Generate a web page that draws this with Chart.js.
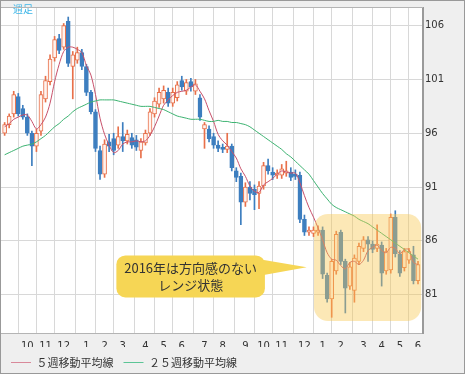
<!DOCTYPE html>
<html>
<head>
<meta charset="utf-8">
<script src="https://cdn.jsdelivr.net/npm/chart.js@4.4.0/dist/chart.umd.min.js"></script>
<style>
  html, body { margin: 0; padding: 0; background: #efefef; }
  #wrap { width: 465px; height: 374px; }
</style>
</head>
<body>
<div id="wrap"><canvas id="chart" width="465" height="374"></canvas></div>
<script>
// weekly candles, index 0 = first week shown (Sep 2014)
const opens = [
  96.0, 96.8, 97.8, 99.4, 98.3, 97.5, 96.0, 94.8, 96.2, 99.2,
  100.8, 103.0, 104.8, 104.0, 106.4, 102.2, 102.8, 103.5, 102.2, 99.8,
  98.0, 94.4, 92.2, 95.2, 95.5, 94.9, 95.7, 95.3, 95.6, 95.4,
  94.4, 95.1, 96.0, 97.8, 98.7, 99.2, 99.8, 98.8, 99.3, 100.9,
  99.9, 100.8, 99.9, 99.3, 96.4, 96.4, 95.7, 94.9, 94.7, 94.5,
  94.8, 92.5, 92.0, 89.6, 91.0, 90.8, 90.4, 91.1, 93.0, 92.4,
  92.1, 92.1, 92.3, 92.4, 92.2, 92.1, 88.0, 86.8, 86.7, 86.8,
  87.0, 82.8, 80.6, 83.2, 86.8, 84.1, 81.8, 81.4, 84.1, 85.3,
  86.1, 85.7, 85.3, 85.6, 83.2, 83.3, 88.2, 84.8, 83.5, 84.2,
  84.7, 82.3
];
const highs = [
  97.0, 97.8, 99.9, 99.7, 98.6, 97.8, 96.2, 96.4, 99.9, 101.3,
  103.3, 105.0, 105.2, 106.2, 106.8, 103.6, 104.0, 103.8, 102.4, 100.0,
  98.2, 94.8, 95.4, 95.9, 96.0, 96.6, 97.0, 96.3, 96.0, 95.8,
  95.5, 96.3, 98.3, 99.3, 100.2, 100.4, 100.2, 100.2, 100.8, 101.3,
  101.0, 101.1, 101.0, 99.6, 97.0, 96.7, 96.0, 95.3, 95.0, 96.0,
  95.0, 92.8, 92.3, 91.4, 91.5, 91.2, 91.5, 93.3, 93.6, 92.8,
  92.6, 93.1, 93.4, 92.8, 92.6, 92.4, 88.4, 87.3, 87.3, 87.4,
  87.3, 83.0, 84.3, 86.9, 87.0, 84.3, 84.0, 84.7, 85.8, 86.4,
  86.4, 86.0, 87.5, 85.9, 85.3, 88.5, 88.8, 85.1, 85.3, 85.3,
  85.5, 84.1
];
const lows = [
  95.8, 96.5, 97.5, 97.6, 97.3, 95.8, 93.0, 94.3, 95.8, 98.9,
  100.5, 102.7, 103.4, 103.8, 102.2, 99.2, 102.5, 101.9, 99.5, 97.8,
  94.3, 91.7, 91.9, 94.3, 94.0, 94.6, 94.3, 95.0, 94.6, 94.4,
  93.7, 94.9, 95.8, 97.5, 98.4, 98.8, 98.5, 98.5, 99.0, 100.0,
  99.6, 99.9, 99.6, 97.2, 94.6, 95.2, 94.6, 94.3, 94.2, 94.2,
  92.5, 91.5, 87.5, 89.2, 89.8, 88.9, 89.0, 90.8, 92.2, 91.7,
  91.8, 91.8, 92.0, 91.6, 91.7, 87.7, 86.5, 86.5, 86.4, 86.5,
  82.5, 80.3, 78.9, 82.9, 83.8, 79.3, 81.5, 80.3, 83.8, 85.0,
  84.1, 84.9, 85.0, 81.8, 82.9, 83.0, 84.5, 82.7, 83.2, 83.9,
  82.0, 82.0
];
const closes = [
  96.8, 97.6, 99.6, 97.8, 97.5, 96.0, 94.8, 96.0, 99.6, 100.9,
  102.9, 104.7, 103.7, 106.0, 102.5, 103.3, 103.5, 102.2, 99.8, 98.0,
  94.6, 92.2, 95.0, 94.8, 94.4, 95.7, 95.3, 95.9, 94.9, 94.7,
  95.2, 96.0, 98.0, 99.0, 99.8, 100.0, 98.8, 99.8, 100.5, 100.3,
  100.7, 100.3, 100.6, 97.5, 96.8, 95.5, 94.9, 94.6, 94.5, 94.8,
  92.8, 91.9, 89.6, 91.0, 90.4, 90.3, 91.1, 93.0, 92.5, 92.1,
  92.3, 92.7, 92.5, 91.9, 92.0, 88.0, 86.8, 87.0, 87.0, 87.0,
  82.9, 80.6, 84.1, 86.6, 84.1, 81.6, 83.6, 84.4, 85.5, 86.1,
  85.7, 85.2, 85.7, 83.0, 85.0, 88.2, 84.8, 83.0, 85.0, 85.0,
  82.3, 83.8
];
// 5-week and 25-week moving averages
const ma5 = [
  96.6, 96.9, 97.3, 97.5, 97.7, 97.7, 97.1, 96.4, 96.8, 97.5,
  98.8, 100.8, 102.4, 103.6, 104.0, 104.0, 103.8, 103.5, 102.3, 101.4,
  99.6, 97.4, 95.9, 94.9, 94.2, 94.4, 95.0, 95.2, 95.2, 95.3,
  95.2, 95.3, 95.8, 96.6, 97.6, 98.6, 99.1, 99.5, 99.8, 99.9,
  100.0, 100.3, 100.5, 99.9, 99.2, 98.1, 97.1, 95.9, 95.3, 94.9,
  94.3, 93.7, 92.7, 92.0, 91.1, 90.6, 90.5, 91.2, 91.5, 91.8,
  92.2, 92.5, 92.4, 92.3, 92.3, 91.4, 90.2, 89.1, 88.2, 87.2,
  86.1, 84.9, 84.3, 84.2, 83.7, 83.4, 84.0, 84.1, 83.8, 84.2,
  85.1, 85.4, 85.6, 85.1, 84.9, 85.4, 85.3, 84.8, 85.2, 85.2,
  84.0, 83.8
];
const ma25 = [
  94.0, 94.2, 94.4, 94.6, 94.8, 94.9, 95.0, 95.2, 95.5, 95.8,
  96.2, 96.6, 96.9, 97.3, 97.6, 98.0, 98.3, 98.5, 98.7, 98.9,
  99.0, 99.1, 99.1, 99.1, 99.1, 99.0, 98.9, 98.8, 98.7, 98.6,
  98.5, 98.5, 98.5, 98.4, 98.3, 98.2, 98.0, 97.8, 97.6, 97.5,
  97.4, 97.3, 97.3, 97.3, 97.2, 97.1, 97.1, 97.2, 97.1, 97.1,
  97.0, 97.0, 96.9, 96.8, 96.6, 96.3, 96.0, 95.7, 95.4, 95.1,
  94.8, 94.5, 94.1, 93.8, 93.4, 93.0, 92.6, 92.2, 91.6, 91.0,
  90.4, 89.9, 89.4, 89.1, 88.9, 88.7, 88.5, 88.3, 88.0, 87.8,
  87.6, 87.3, 87.0, 86.7, 86.4, 86.1, 85.8, 85.5, 85.2, 84.9,
  84.6, 84.3
];
// first week of each month -> label
const monthTicks = [5, 9, 13, 18, 22, 26, 31, 35, 39, 44, 48, 53, 57, 61, 66, 70, 74, 79, 83, 87, 91];
const monthLabels = ['10', '11', '12', '1', '2', '3', '4', '5', '6', '7', '8', '9', '10', '11', '12', '1', '2', '3', '4', '5', '6'];
const priceTicks = [81, 86, 91, 96, 101, 106];

const upColor = '#e8704a';
const downColor = '#3d7ebf';
const isUp = (i) => closes[i] >= opens[i];

const wickData = highs.map((h, i) => ({ x: i, y: [lows[i], h] }));
const bodyData = opens.map((o, i) => ({ x: i, y: [o, closes[i]] }));

// highlighted range + callout, in data units
const rangeBox = { x0: 68.1, x1: 91.7, y0: 78.55, y1: 88.5 };
const callout = { x0: 24.6, x1: 57.3, y0: 80.75, y1: 84.65, tipX: 66.5, tipY: 83.55 };

const decorations = {
    id: 'decorations',
    beforeDraw(chart) {
        const { ctx, chartArea: a } = chart;
        ctx.save();
        ctx.fillStyle = '#efefef';
        ctx.fillRect(0, 0, chart.width, chart.height);
        ctx.fillStyle = '#ffffff';
        ctx.fillRect(a.left, a.top, a.right - a.left, a.bottom - a.top);
        ctx.restore();
    },
    afterDatasetsDraw(chart) {
        const { ctx, scales: { x, y } } = chart;
        ctx.save();
        // translucent range box
        const bx0 = x.getPixelForValue(rangeBox.x0), bx1 = x.getPixelForValue(rangeBox.x1);
        const by0 = y.getPixelForValue(rangeBox.y1), by1 = y.getPixelForValue(rangeBox.y0);
        ctx.fillStyle = 'rgba(247, 200, 80, 0.42)';
        ctx.beginPath();
        ctx.roundRect(bx0, by0, bx1 - bx0, by1 - by0, 14);
        ctx.fill();

        // callout bubble
        const cx0 = x.getPixelForValue(callout.x0), cx1 = x.getPixelForValue(callout.x1);
        const cy0 = y.getPixelForValue(callout.y1), cy1 = y.getPixelForValue(callout.y0);
        ctx.fillStyle = '#f6d655';
        ctx.beginPath();
        ctx.roundRect(cx0, cy0, cx1 - cx0, cy1 - cy0, 9);
        ctx.fill();
        ctx.beginPath();
        ctx.moveTo(cx1 - 4, cy0 + 4);
        ctx.lineTo(x.getPixelForValue(callout.tipX), y.getPixelForValue(callout.tipY));
        ctx.lineTo(cx1 - 4, cy0 + 20);
        ctx.closePath();
        ctx.fill();
        ctx.fillStyle = '#333333';
        ctx.font = '13px "Noto Sans CJK JP"';
        ctx.textAlign = 'center';
        ctx.textBaseline = 'middle';
        const mid = (cx0 + cx1) / 2;
        ctx.fillText('2016年は方向感のない', mid, cy0 + 13);
        ctx.fillText('レンジ状態', mid, cy0 + 30);

        // period label
        ctx.fillStyle = '#3cb6e8';
        ctx.font = '10px "Noto Sans CJK JP"';
        ctx.textAlign = 'left';
        ctx.fillText('週足', 13, 9);
        ctx.restore();
    },
    afterDraw(chart) {
        const { ctx, chartArea: a } = chart;
        ctx.save();
        ctx.strokeStyle = '#b4b4b4';
        ctx.lineWidth = 1;
        ctx.beginPath();
        ctx.moveTo(a.left - 0.5, a.bottom);
        ctx.lineTo(a.left - 0.5, a.top - 0.5);
        ctx.lineTo(a.right, a.top - 0.5);
        ctx.stroke();
        ctx.strokeStyle = '#999999';
        ctx.strokeRect(0.5, 0.5, chart.width - 1, chart.height - 1);
        ctx.restore();
    }
};

new Chart(document.getElementById('chart'), {
    type: 'bar',
    data: {
        datasets: [
            {
                label: 'wick',
                data: wickData,
                grouped: false,
                barThickness: 1,
                backgroundColor: (c) => isUp(c.dataIndex) ? upColor : downColor,
                order: 3
            },
            {
                label: 'body',
                data: bodyData,
                grouped: false,
                barThickness: 4,
                borderWidth: 1,
                borderSkipped: false,
                borderColor: (c) => isUp(c.dataIndex) ? upColor : downColor,
                backgroundColor: (c) => isUp(c.dataIndex) ? '#fff3ee' : downColor,
                order: 2
            },
            {
                type: 'line',
                label: '５週移動平均線',
                data: ma5.map((v, i) => ({ x: i, y: v })),
                borderColor: '#c8506a',
                backgroundColor: '#d9899a',
                borderWidth: 1,
                pointRadius: 0,
                tension: 0.3,
                order: 1
            },
            {
                type: 'line',
                label: '２５週移動平均線',
                data: ma25.map((v, i) => ({ x: i, y: v })),
                borderColor: '#3cb371',
                backgroundColor: '#5cc596',
                borderWidth: 1,
                pointRadius: 0,
                tension: 0.3,
                order: 0
            }
        ]
    },
    options: {
        responsive: false,
        animation: false,
        layout: { padding: { left: 1, top: 1, right: 0, bottom: 0 } },
        plugins: {
            tooltip: { enabled: false },
            legend: {
                position: 'bottom',
                align: 'start',
                maxHeight: 27,
                labels: {
                    filter: (item) => item.datasetIndex > 1,
                    boxWidth: 20,
                    boxHeight: 1,
                    padding: 10,
                    color: '#333333',
                    font: { family: '"Noto Sans CJK JP"', size: 11 },
                    generateLabels: (chart) => chart.data.datasets.map((ds, i) => ({
                        text: ds.label,
                        fillStyle: ds.backgroundColor,
                        strokeStyle: ds.backgroundColor,
                        lineWidth: 0,
                        hidden: false,
                        datasetIndex: i,
                        fontColor: '#333333'
                    }))
                }
            }
        },
        scales: {
            x: {
                type: 'linear',
                min: -0.8,
                max: 92.1,
                offset: false,
                afterBuildTicks: (s) => { s.ticks = monthTicks.map(v => ({ value: v })); },
                afterFit: (s) => { s.height = 14; },
                ticks: {
                    autoSkip: false,
                    maxRotation: 0,
                    padding: 7,
                    color: '#333333',
                    font: { family: '"DejaVu Sans"', size: 10 },
                    callback: (v) => monthLabels[monthTicks.indexOf(v)]
                },
                grid: { color: '#d8d8d8', drawTicks: false },
                border: { color: '#b4b4b4' }
            },
            y: {
                position: 'right',
                min: 77.44,
                max: 107.64,
                afterBuildTicks: (s) => { s.ticks = priceTicks.map(v => ({ value: v })); },
                afterFit: (s) => { s.width = 42; },
                ticks: {
                    padding: 2,
                    color: '#333333',
                    font: { family: '"DejaVu Sans"', size: 10 }
                },
                grid: { color: '#d8d8d8', drawTicks: false },
                border: { color: '#9a9a9a', width: 2 }
            }
        }
    },
    plugins: [decorations]
});
</script>
</body>
</html>
